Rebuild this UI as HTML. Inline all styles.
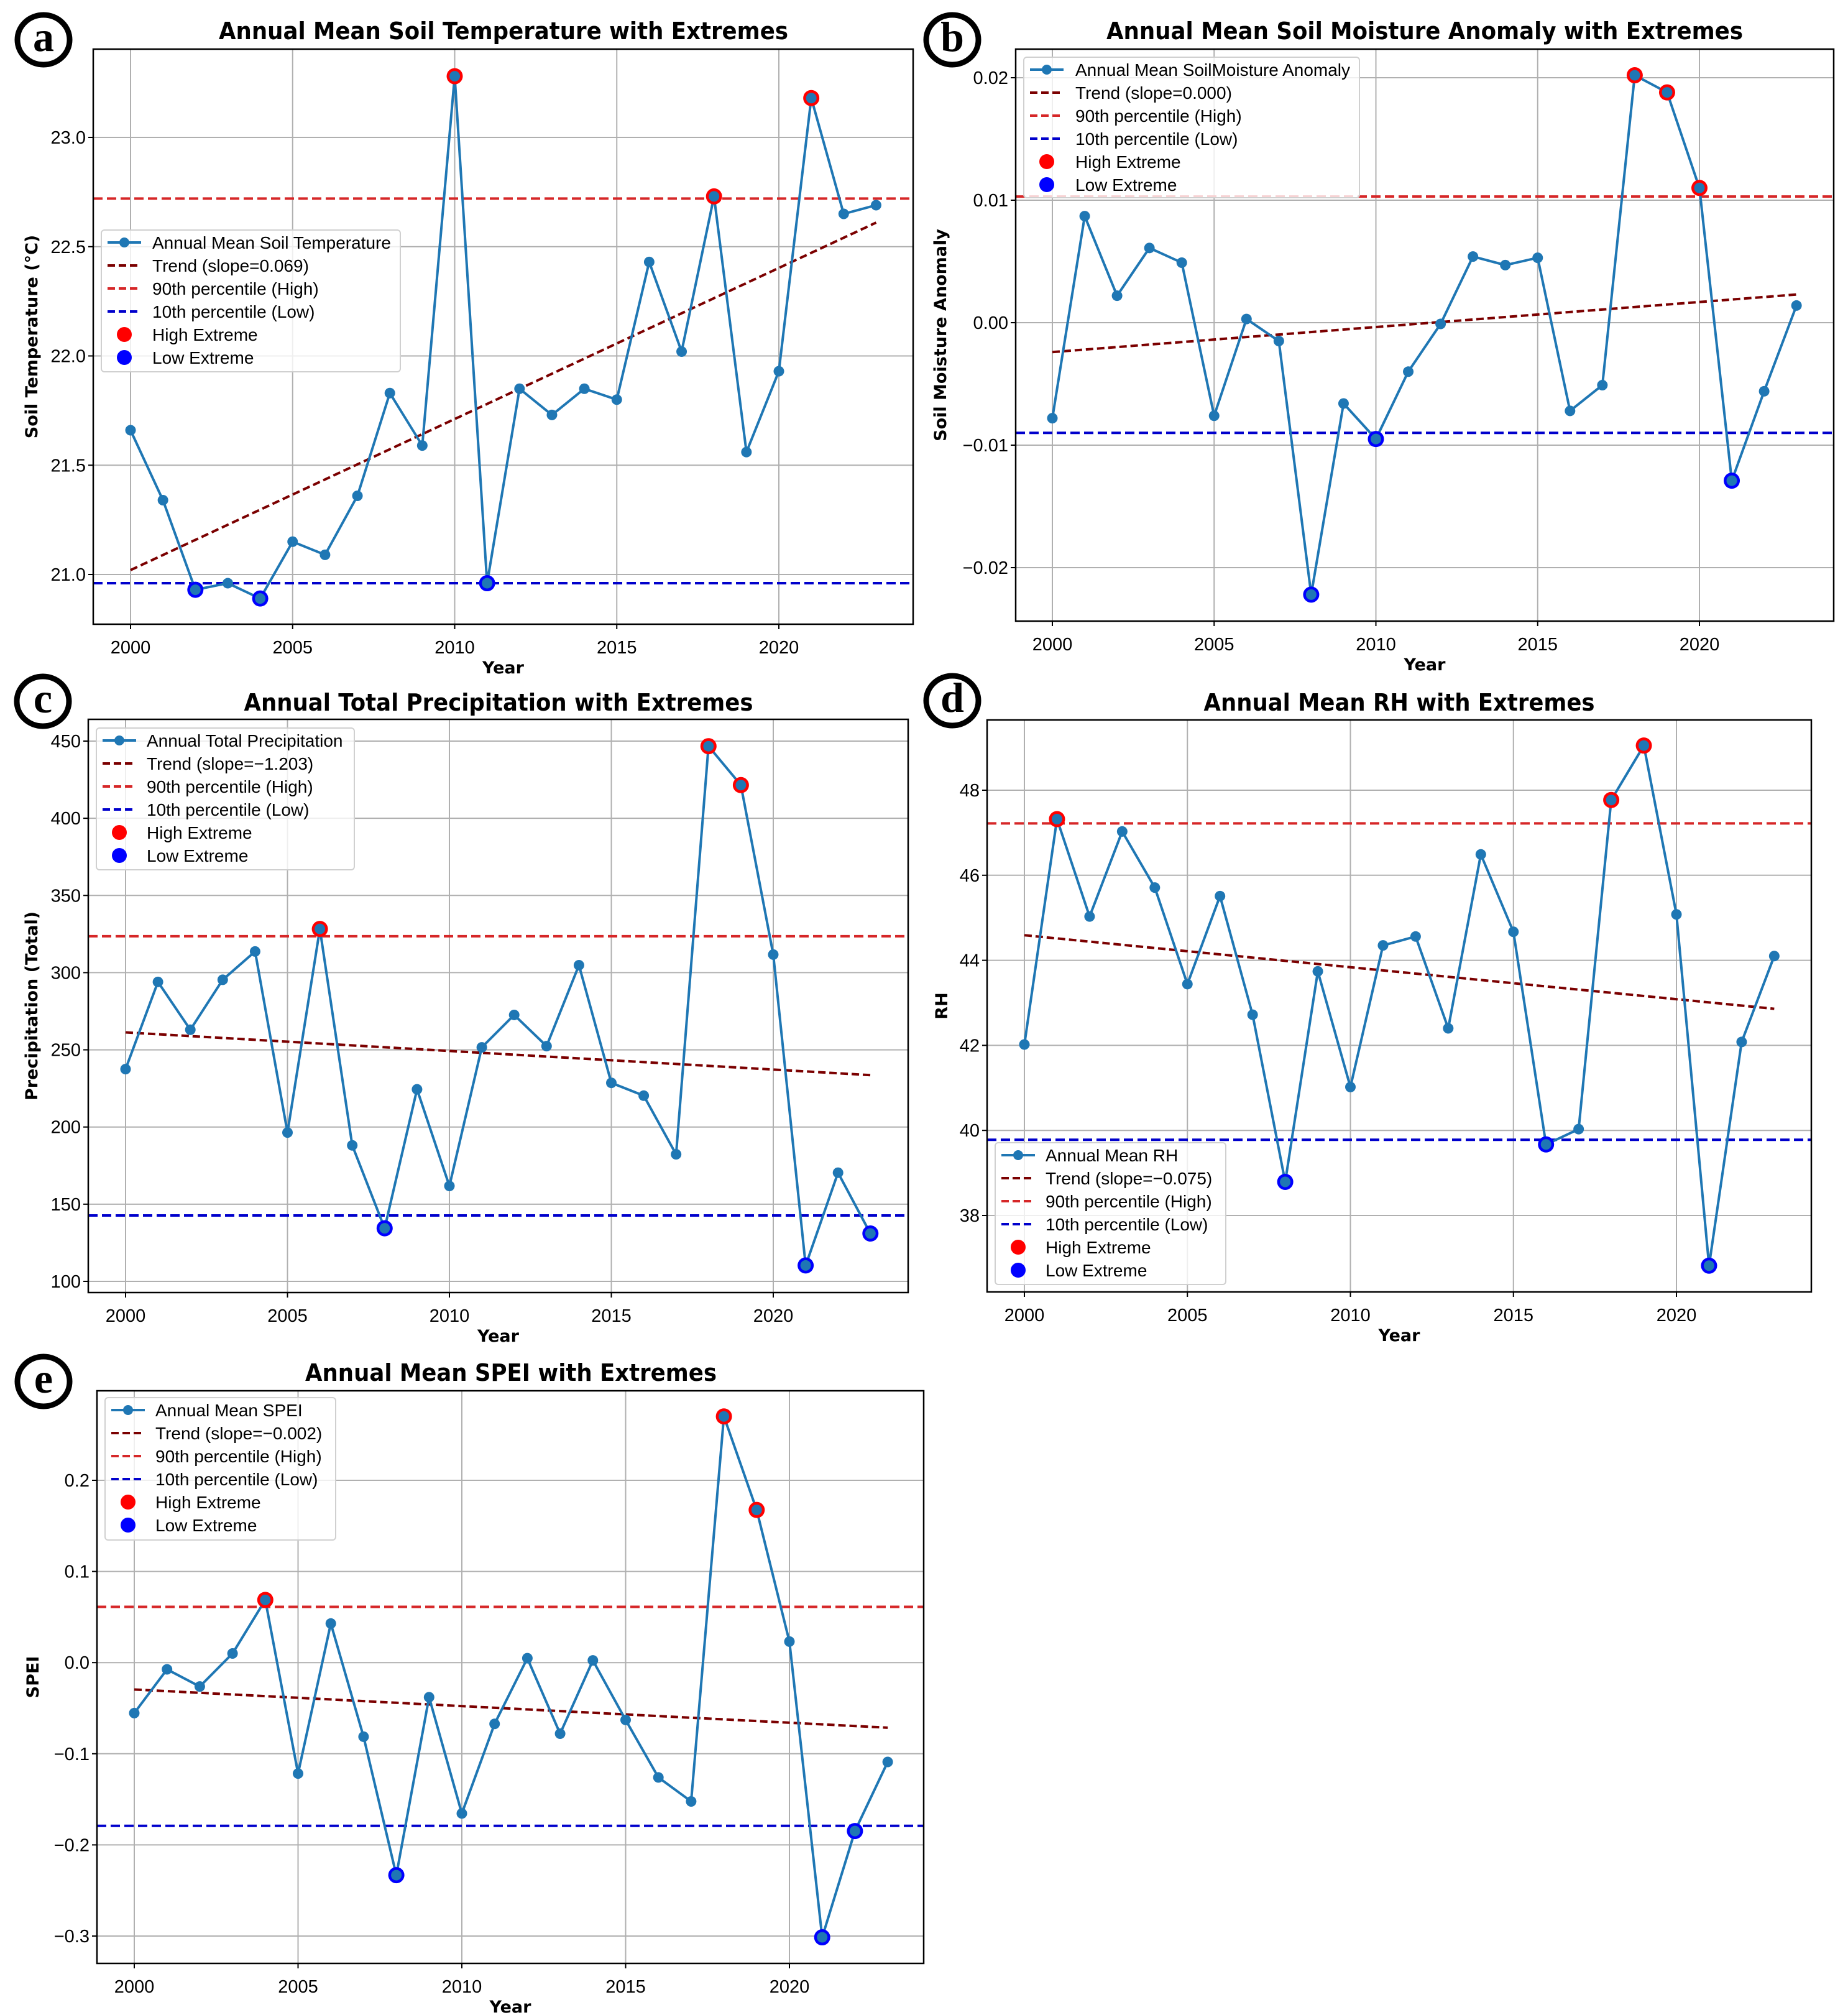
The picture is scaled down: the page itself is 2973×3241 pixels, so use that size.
<!DOCTYPE html>
<html><head><meta charset="utf-8">
<style>
html,body{margin:0;padding:0;background:#fff;}
svg{display:block;}
</style></head>
<body>
<svg id="fig" xmlns="http://www.w3.org/2000/svg" width="2973" height="3241" viewBox="0 0 2973 3241" font-family="Liberation Sans, DejaVu Sans, sans-serif">
<rect x="0" y="0" width="2973" height="3241" fill="#fff"/>
</svg>
<script>
const years = [2000,2001,2002,2003,2004,2005,2006,2007,2008,2009,2010,2011,2012,2013,2014,2015,2016,2017,2018,2019,2020,2021,2022,2023];
const xTicks = [2000,2005,2010,2015,2020];

const tempVals = [21.66,21.34,20.93,20.96,20.89,21.15,21.09,21.36,21.83,21.59,23.28,20.96,21.85,21.73,21.85,21.80,22.43,22.02,22.73,21.56,21.93,23.18,22.65,22.69];
const tempHighYears = [2010,2018,2021];
const tempLowYears = [2002,2004,2011];
const tempTrend = [21.02,22.61];
const tempThresh = [22.72,20.96];
const tempTicks = [21.0,21.5,22.0,22.5,23.0];
const tempTickLabels = ["21.0","21.5","22.0","22.5","23.0"];

const smVals = [-0.0078,0.0087,0.0022,0.0061,0.0049,-0.0076,0.0003,-0.0015,-0.0222,-0.0066,-0.0095,-0.0040,-0.0001,0.0054,0.0047,0.0053,-0.0072,-0.0051,0.0202,0.0188,0.0110,-0.0129,-0.0056,0.0014];
const smHighYears = [2018,2019,2020];
const smLowYears = [2008,2010,2021];
const smTrend = [-0.0024,0.0023];
const smThresh = [0.0103,-0.0090];
const smTicks = [-0.02,-0.01,0.0,0.01,0.02];
const smTickLabels = ["\u22120.02","\u22120.01","0.00","0.01","0.02"];

const prVals = [237.5,294,263,295.4,313.7,196.4,328.3,188.1,134.4,224.4,161.8,251.6,272.6,252.4,304.8,228.6,220.3,182.3,446.7,421.5,311.7,110.3,170.4,131.0];
const prHighYears = [2006,2018,2019];
const prLowYears = [2008,2021,2023];
const prTrend = [261.3,233.6];
const prThresh = [323.6,142.7];
const prTicks = [100,150,200,250,300,350,400,450];
const prTickLabels = ["100","150","200","250","300","350","400","450"];

const rhVals = [42.02,47.32,45.03,47.03,45.71,43.44,45.51,42.72,38.79,43.74,41.02,44.35,44.56,42.40,46.49,44.67,39.67,40.03,47.77,49.05,45.08,36.82,42.08,44.10];
const rhHighYears = [2001,2018,2019];
const rhLowYears = [2008,2016,2021];
const rhTrend = [44.59,42.86];
const rhThresh = [47.22,39.78];
const rhTicks = [38,40,42,44,46,48];
const rhTickLabels = ["38","40","42","44","46","48"];

const speiVals = [-0.0554,-0.0074,-0.0262,0.0100,0.0688,-0.1217,0.0429,-0.0813,-0.2332,-0.0380,-0.1655,-0.0672,0.0048,-0.0780,0.0024,-0.0629,-0.1260,-0.1523,0.2701,0.1675,0.0231,-0.3014,-0.1848,-0.1090];
const speiHighYears = [2004,2018,2019];
const speiLowYears = [2008,2021,2022];
const speiTrend = [-0.0295,-0.0714];
const speiThresh = [0.0612,-0.1791];
const speiTicks = [-0.3,-0.2,-0.1,0.0,0.1,0.2];
const speiTickLabels = ["\u22120.3","\u22120.2","\u22120.1","0.0","0.1","0.2"];

const NS = "http://www.w3.org/2000/svg";
const svg = document.getElementById('fig');
function mk(tag, attrs, parent){
  const e = document.createElementNS(NS, tag);
  for (const k in attrs) e.setAttribute(k, attrs[k]);
  (parent||svg).appendChild(e);
  return e;
}
const DJ = 'font-family:"DejaVu Sans","Liberation Sans",sans-serif';

function panel(cfg, vals, highY, lowY, trend, thresh, yTicks, yTickLabels){
  const g = mk('g', {});
  
  
  const L=cfg.L, R=cfg.R, T=cfg.T, B=cfg.B;
  const xs = v => cfg.x0 + (v-2000)/20*(cfg.x20-cfg.x0);
  const ys = v => cfg.yA + (v-cfg.vA)/(cfg.vB-cfg.vA)*(cfg.yB-cfg.yA);
  xTicks.forEach(t=>{
    const l = mk('line',{x1:xs(t),x2:xs(t),y1:T,y2:B,stroke:'#b0b0b0','stroke-width':2},g);
    
    
  });
  yTicks.forEach(t=>{
    const l = mk('line',{x1:L,x2:R,y1:ys(t),y2:ys(t),stroke:'#b0b0b0','stroke-width':2},g);
    
    
  });
  xTicks.forEach(t=>{
    mk('line',{x1:xs(t),x2:xs(t),y1:B,y2:B+8,stroke:'#000','stroke-width':2},g);
    const tx = mk('text',{x:xs(t),y:B+47,'text-anchor':'middle','font-size':29,fill:'#000'},g);
    tx.textContent = t;
    
    
  });
  yTicks.forEach((t,i)=>{
    mk('line',{x1:L-8,x2:L,y1:ys(t),y2:ys(t),stroke:'#000','stroke-width':2},g);
    const tx = mk('text',{x:L-12,y:ys(t)+10,'text-anchor':'end','font-size':29,fill:'#000'},g);
    tx.textContent = yTickLabels[i];
    
    
  });
  const hl = mk('line',{x1:L,x2:R,y1:ys(thresh[0]),y2:ys(thresh[0]),stroke:'#d62728','stroke-width':4,'stroke-dasharray':'15 7'},g);
  
  
  const ll = mk('line',{x1:L,x2:R,y1:ys(thresh[1]),y2:ys(thresh[1]),stroke:'#0000cc','stroke-width':4,'stroke-dasharray':'15 7'},g);
  
  
  const tl = mk('line',{x1:xs(years[0]),x2:xs(years[years.length-1]),y1:ys(trend[0]),y2:ys(trend[1]),stroke:'#7b0000','stroke-width':4,'stroke-dasharray':'12 6'},g);
  
  
  const pts = years.map((y,i)=>xs(y)+','+ys(vals[i])).join(' ');
  const pl = mk('polyline',{points:pts,fill:'none',stroke:'#1f77b4','stroke-width':4},g);
  
  
  highY.forEach(y=>{
    const i = years.indexOf(y);
    const c = mk('circle',{cx:xs(y),cy:ys(vals[i]),r:13,fill:'#ff0000'},g);
    
    
  });
  lowY.forEach(y=>{
    const i = years.indexOf(y);
    const c = mk('circle',{cx:xs(y),cy:ys(vals[i]),r:13,fill:'#0000ff'},g);
    
    
  });
  years.forEach((y,i)=>{
    const c = mk('circle',{cx:xs(y),cy:ys(vals[i]),r:8.5,fill:'#1f77b4'},g);
    
    
  });
  const fr = mk('rect',{x:L,y:T,width:R-L,height:B-T,fill:'none',stroke:'#000','stroke-width':2.5},g);
  
  
  const lg = cfg.leg;
  const lgG = mk('g',{},g);
  
  
  mk('rect',{x:lg.x,y:lg.y,width:lg.w,height:lg.h,rx:5,fill:'#fff','fill-opacity':0.8,stroke:'#d0d0d0','stroke-width':2},lgG);
  const labels = [cfg.seriesName, cfg.trendName,'90th percentile (High)','10th percentile (Low)','High Extreme','Low Extreme'];
  const names = ['legend-series','legend-trend','legend-high-threshold','legend-low-threshold','legend-high-extreme','legend-low-extreme'];
  labels.forEach((lab,i)=>{
    const cy = lg.y + 20 + i*37;
    const hx = lg.x + 10;
    if(i===0){
      mk('line',{x1:hx,x2:hx+54,y1:cy,y2:cy,stroke:'#1f77b4','stroke-width':4},lgG);
      mk('circle',{cx:hx+27,cy:cy,r:8,fill:'#1f77b4'},lgG);
    } else if(i<4){
      const col = ['#7b0000','#d62728','#0000cc'][i-1];
      mk('line',{x1:hx,x2:hx+54,y1:cy,y2:cy,stroke:col,'stroke-width':4,'stroke-dasharray':'12 6'},lgG);
    } else {
      mk('circle',{cx:hx+27,cy:cy,r:12,fill:i===4?'#ff0000':'#0000ff'},lgG);
    }
    const t = mk('text',{x:lg.tx,y:cy+10,'font-size':28,fill:'#000'},lgG);
    t.textContent = lab;
    
    
  });
  const tt = mk('text',{x:cfg.titleX,y:cfg.titleY,'text-anchor':'middle','font-size':38,'font-weight':'bold',fill:'#000',style:DJ,textLength:cfg.titleW,lengthAdjust:'spacingAndGlyphs'},g);
  tt.textContent = cfg.title;
  
  
  const xl = mk('text',{x:(L+R)/2,y:B+79,'text-anchor':'middle','font-size':27,'font-weight':'bold',fill:'#000',style:DJ},g);
  xl.textContent = 'Year';
  
  
  const yl = mk('text',{x:0,y:0,'text-anchor':'middle','font-size':27,'font-weight':'bold',fill:'#000',style:DJ,transform:'translate('+cfg.ylX+','+((T+B)/2)+') rotate(-90)'},g);
  yl.textContent = cfg.yLabel;
  
  
  const pg = mk('g',{},g);
  
  
  mk('ellipse',{cx:cfg.lx,cy:cfg.ly,rx:42,ry:40,fill:'#fff',stroke:'#000','stroke-width':9},pg);
  const lt = mk('text',{x:cfg.lx,y:cfg.ly+18,'text-anchor':'middle','font-size':68,'font-weight':'bold',fill:'#000',style:'font-family:"Liberation Serif",serif'},pg);
  lt.textContent = cfg.letter;
}

panel({id:'a',L:150,R:1469,T:79,B:1004,x0:210,x20:1253,yA:221,vA:23.0,yB:924,vB:21.0,
  leg:{x:163,y:370,w:481,h:228,tx:245},title:'Annual Mean Soil Temperature with Extremes',titleX:810,titleY:63,titleW:916,
  seriesName:'Annual Mean Soil Temperature',trendName:'Trend (slope=0.069)',yLabel:'Soil Temperature (\u00b0C)',ylX:60,lx:70,ly:64,letter:'a'},
  tempVals,tempHighYears,tempLowYears,tempTrend,tempThresh,tempTicks,tempTickLabels);

panel({id:'b',L:1634,R:2950,T:79,B:999,x0:1693,x20:2734,yA:125,vA:0.02,yB:913,vB:-0.02,
  leg:{x:1647,y:92,w:540,h:226,tx:1730},title:'Annual Mean Soil Moisture Anomaly with Extremes',titleX:2292,titleY:63,titleW:1024,
  seriesName:'Annual Mean SoilMoisture Anomaly',trendName:'Trend (slope=0.000)',yLabel:'Soil Moisture Anomaly',ylX:1522,lx:1532,ly:64,letter:'b'},
  smVals,smHighYears,smLowYears,smTrend,smThresh,smTicks,smTickLabels);

panel({id:'c',L:142,R:1461,T:1157,B:2079,x0:202,x20:1244,yA:1192,vA:450,yB:2061,vB:100,
  leg:{x:155,y:1171,w:415,h:228,tx:236},title:'Annual Total Precipitation with Extremes',titleX:802,titleY:1143,titleW:819,
  seriesName:'Annual Total Precipitation',trendName:'Trend (slope=\u22121.203)',yLabel:'Precipitation (Total)',ylX:60,lx:69,ly:1128,letter:'c'},
  prVals,prHighYears,prLowYears,prTrend,prThresh,prTicks,prTickLabels);

panel({id:'d',L:1588,R:2914,T:1158,B:2078,x0:1648,x20:2697,yA:1271,vA:48,yB:1955,vB:38,
  leg:{x:1601,y:1838,w:371,h:228,tx:1682},title:'Annual Mean RH with Extremes',titleX:2251,titleY:1143,titleW:629,
  seriesName:'Annual Mean RH',trendName:'Trend (slope=\u22120.075)',yLabel:'RH',ylX:1524,lx:1532,ly:1127,letter:'d'},
  rhVals,rhHighYears,rhLowYears,rhTrend,rhThresh,rhTicks,rhTickLabels);

panel({id:'e',L:156,R:1486,T:2237,B:3158,x0:216,x20:1270,yA:2381,vA:0.2,yB:3114,vB:-0.3,
  leg:{x:169,y:2248,w:371,h:229,tx:250},title:'Annual Mean SPEI with Extremes',titleX:822,titleY:2221,titleW:662,
  seriesName:'Annual Mean SPEI',trendName:'Trend (slope=\u22120.002)',yLabel:'SPEI',ylX:62,lx:70,ly:2222,letter:'e'},
  speiVals,speiHighYears,speiLowYears,speiTrend,speiThresh,speiTicks,speiTickLabels);
</script>
</body></html>
